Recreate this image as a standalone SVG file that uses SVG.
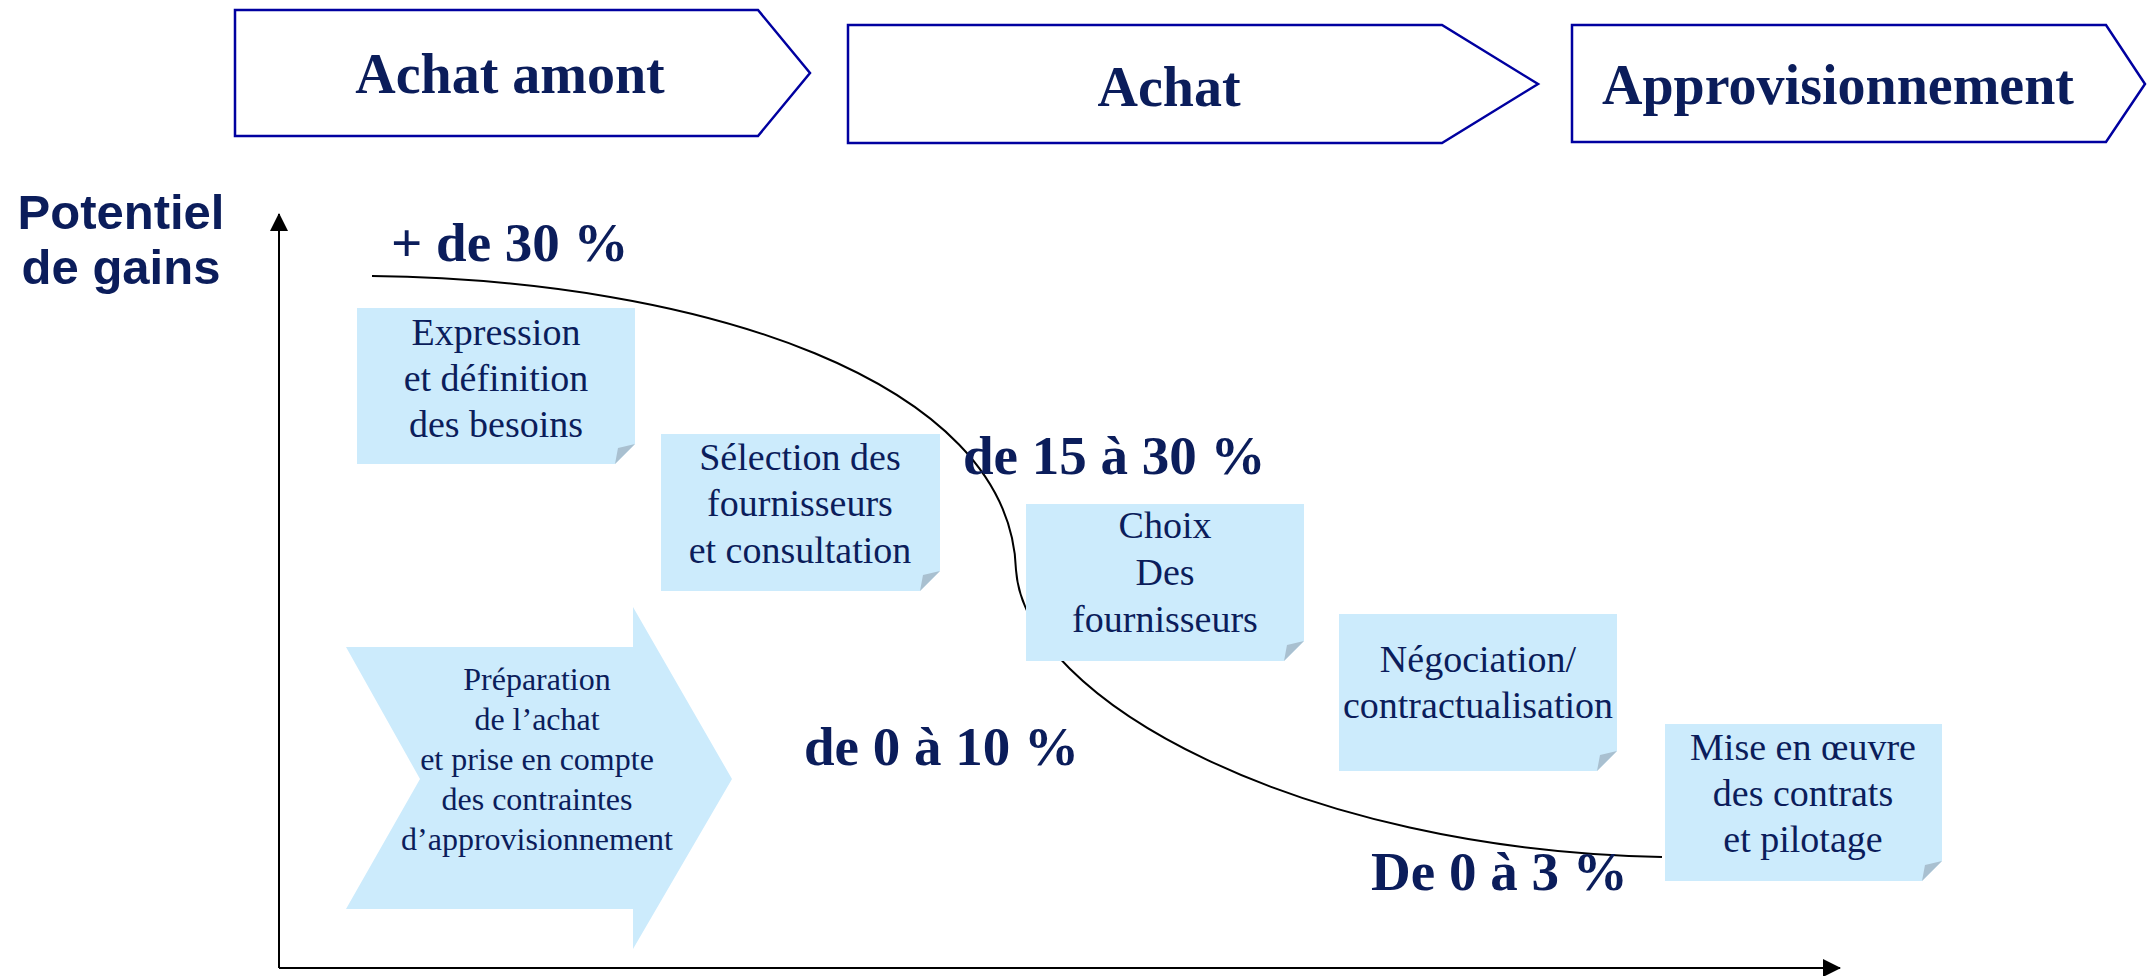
<svg xmlns="http://www.w3.org/2000/svg" width="2154" height="976" viewBox="0 0 2154 976">
<defs>
<style>
.hdr{fill:#fff;stroke:#0000A0;stroke-width:2.5}
.ht{font-family:"Liberation Serif",serif;font-weight:bold;font-size:56px;fill:#0B1D5B;text-anchor:middle}
.pct{font-family:"Liberation Serif",serif;font-weight:bold;font-size:55px;fill:#0B1D5B}
.note{fill:#CCEBFC}
.fold{fill:#A9C0D0}
.nt{font-family:"Liberation Serif",serif;font-size:38px;fill:#0B1D5B;text-anchor:middle}
.at{font-family:"Liberation Serif",serif;font-size:32px;fill:#0B1D5B;text-anchor:middle}
.ax{stroke:#000;stroke-width:2;fill:none}
.yl{font-family:"Liberation Sans",Arial,sans-serif;font-weight:bold;font-size:49px;fill:#0B1D5B;text-anchor:middle}
</style>
<marker id="ah" markerWidth="18" markerHeight="18" refX="17" refY="9" orient="auto" markerUnits="userSpaceOnUse">
<path d="M0,0 L18,9 L0,18 Z" fill="#000"/>
</marker>
</defs>

<g id="hdr-achat-amont">
<polygon class="hdr" points="235,10 758,10 810,73 758,136 235,136"/>
<text class="ht" x="510" y="93">Achat amont</text>
</g>
<g id="hdr-achat">
<polygon class="hdr" points="848,25 1442,25 1538,84 1442,143 848,143"/>
<text class="ht" x="1169" y="106">Achat</text>
</g>
<g id="hdr-appro">
<polygon class="hdr" points="1572,25 2106,25 2145,84 2106,142 1572,142"/>
<text class="ht" x="1838" y="104">Approvisionnement</text>
</g>

<g id="ylabel">
<text class="yl" x="121" y="229">Potentiel</text>
<text class="yl" x="121" y="284">de gains</text>
</g>

<g id="connectors">
<line class="ax" x1="279" y1="968" x2="279" y2="214" marker-end="url(#ah)"/>
<line class="ax" x1="279" y1="968" x2="1840" y2="968" marker-end="url(#ah)"/>
<path class="ax" d="M372,276 C700,280 1010,380 1016,570 C1025,700 1300,850 1662,857"/>
</g>

<g id="lbl-30">
<text class="pct" x="391" y="261">+ de 30 %</text>
</g>
<g id="lbl-15-30">
<text class="pct" x="963" y="474">de 15 à 30 %</text>
</g>
<g id="lbl-0-10">
<text class="pct" x="804" y="765">de 0 à 10 %</text>
</g>

<g id="prep">
<polygon class="note" points="346,647 633,647 633,607 732,779 633,949 633,909 346,909 420,779"/>
<text class="at" x="537" y="690">Préparation</text>
<text class="at" x="537" y="730">de l’achat</text>
<text class="at" x="537" y="770">et prise en compte</text>
<text class="at" x="537" y="810">des contraintes</text>
<text class="at" x="537" y="850">d’approvisionnement</text>
</g>

<g id="note1">
<polygon class="note" points="357,308 635,308 635,444 615,464 357,464"/>
<polygon class="fold" points="635,444 615,464 618,448"/>
<text class="nt" x="496" y="345">Expression</text>
<text class="nt" x="496" y="391">et définition</text>
<text class="nt" x="496" y="437">des besoins</text>
</g>
<g id="note2">
<polygon class="note" points="661,434 940,434 940,571 920,591 661,591"/>
<polygon class="fold" points="940,571 920,591 923,575"/>
<text class="nt" x="800" y="470">Sélection des</text>
<text class="nt" x="800" y="516">fournisseurs</text>
<text class="nt" x="800" y="563">et consultation</text>
</g>
<g id="note3">
<polygon class="note" points="1026,504 1304,504 1304,641 1284,661 1026,661"/>
<polygon class="fold" points="1304,641 1284,661 1287,645"/>
<text class="nt" x="1165" y="538">Choix</text>
<text class="nt" x="1165" y="585">Des</text>
<text class="nt" x="1165" y="632">fournisseurs</text>
</g>
<g id="note4">
<polygon class="note" points="1339,614 1617,614 1617,751 1597,771 1339,771"/>
<polygon class="fold" points="1617,751 1597,771 1600,755"/>
<text class="nt" x="1478" y="672">Négociation/</text>
<text class="nt" x="1478" y="718">contractualisation</text>
</g>
<g id="note5">
<polygon class="note" points="1665,724 1942,724 1942,861 1922,881 1665,881"/>
<polygon class="fold" points="1942,861 1922,881 1925,865"/>
<text class="nt" x="1803" y="760">Mise en œuvre</text>
<text class="nt" x="1803" y="806">des contrats</text>
<text class="nt" x="1803" y="852">et pilotage</text>
</g>

<g id="lbl-0-3">
<text class="pct" x="1371" y="890">De 0 à 3 %</text>
</g>
</svg>
